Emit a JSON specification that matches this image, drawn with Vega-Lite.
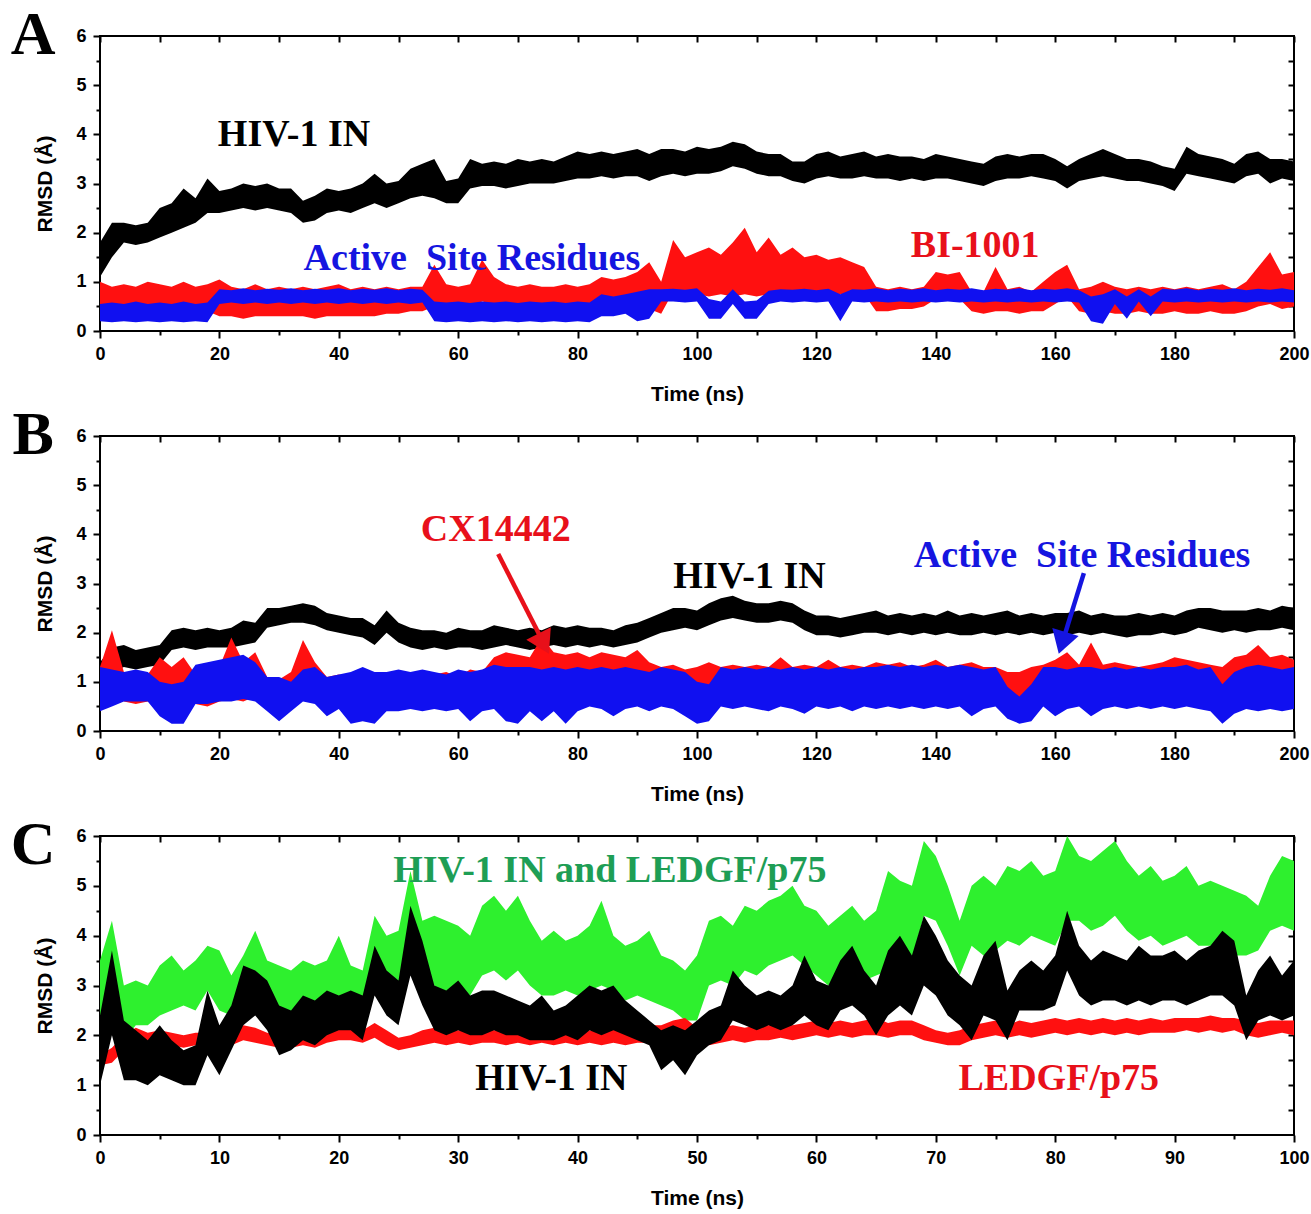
{
"$schema": "https://vega.github.io/schema/vega-lite/v6.json",
"padding": {"left": 9, "top": 3, "right": 0, "bottom": 0},
"background": "white",
"config": {
  "view": {"stroke": "#000", "strokeWidth": 2},
  "axis": {"domain": false, "grid": false, "tickColor": "#000", "tickWidth": 2, "labelFont": "Liberation Sans", "labelFontWeight": "bold", "labelFontSize": 18, "labelColor": "#000", "titleFont": "Liberation Sans", "titleFontWeight": "bold", "titleFontSize": 21, "titleColor": "#000", "labelFlush": false, "labelOverlap": false}
},
"datasets": {
"A": [
{"t":0,"a":1.1,"b":1.8,"c":0.35,"d":1.0,"e":0.2,"f":0.55},
{"t":2,"a":1.5,"b":2.2,"c":0.4,"d":0.9,"e":0.18,"f":0.58},
{"t":4,"a":1.8,"b":2.2,"c":0.35,"d":0.95,"e":0.2,"f":0.55},
{"t":6,"a":1.75,"b":2.15,"c":0.4,"d":0.9,"e":0.18,"f":0.6},
{"t":8,"a":1.8,"b":2.2,"c":0.35,"d":1.0,"e":0.2,"f":0.55},
{"t":10,"a":1.9,"b":2.5,"c":0.4,"d":0.95,"e":0.18,"f":0.58},
{"t":12,"a":2.0,"b":2.6,"c":0.35,"d":0.9,"e":0.2,"f":0.55},
{"t":14,"a":2.1,"b":2.9,"c":0.4,"d":1.0,"e":0.18,"f":0.6},
{"t":16,"a":2.2,"b":2.7,"c":0.35,"d":0.9,"e":0.2,"f":0.55},
{"t":18,"a":2.4,"b":3.1,"c":0.4,"d":0.95,"e":0.18,"f":0.58},
{"t":20,"a":2.4,"b":2.85,"c":0.3,"d":1.05,"e":0.55,"f":0.85},
{"t":22,"a":2.45,"b":2.9,"c":0.3,"d":0.9,"e":0.58,"f":0.83},
{"t":24,"a":2.5,"b":3.0,"c":0.25,"d":0.85,"e":0.55,"f":0.87},
{"t":26,"a":2.45,"b":2.95,"c":0.3,"d":0.95,"e":0.58,"f":0.83},
{"t":28,"a":2.5,"b":3.0,"c":0.3,"d":0.85,"e":0.55,"f":0.86},
{"t":30,"a":2.45,"b":2.9,"c":0.3,"d":0.9,"e":0.58,"f":0.84},
{"t":32,"a":2.4,"b":2.9,"c":0.3,"d":0.85,"e":0.55,"f":0.87},
{"t":34,"a":2.2,"b":2.65,"c":0.3,"d":0.9,"e":0.58,"f":0.83},
{"t":36,"a":2.25,"b":2.75,"c":0.25,"d":0.85,"e":0.55,"f":0.86},
{"t":38,"a":2.4,"b":2.9,"c":0.3,"d":0.9,"e":0.58,"f":0.84},
{"t":40,"a":2.45,"b":2.85,"c":0.3,"d":0.95,"e":0.55,"f":0.87},
{"t":42,"a":2.4,"b":2.9,"c":0.3,"d":0.85,"e":0.58,"f":0.83},
{"t":44,"a":2.5,"b":3.0,"c":0.3,"d":0.9,"e":0.55,"f":0.86},
{"t":46,"a":2.6,"b":3.2,"c":0.3,"d":0.85,"e":0.58,"f":0.84},
{"t":48,"a":2.5,"b":3.0,"c":0.35,"d":0.9,"e":0.55,"f":0.87},
{"t":50,"a":2.6,"b":3.05,"c":0.35,"d":0.85,"e":0.58,"f":0.83},
{"t":52,"a":2.7,"b":3.3,"c":0.4,"d":0.9,"e":0.55,"f":0.86},
{"t":54,"a":2.75,"b":3.4,"c":0.4,"d":0.9,"e":0.58,"f":0.84},
{"t":56,"a":2.7,"b":3.5,"c":0.5,"d":1.35,"e":0.2,"f":0.6},
{"t":58,"a":2.6,"b":3.05,"c":0.45,"d":0.95,"e":0.18,"f":0.58},
{"t":60,"a":2.6,"b":3.1,"c":0.45,"d":0.9,"e":0.2,"f":0.6},
{"t":62,"a":2.9,"b":3.5,"c":0.45,"d":0.95,"e":0.18,"f":0.57},
{"t":64,"a":2.95,"b":3.4,"c":0.6,"d":1.45,"e":0.2,"f":0.6},
{"t":66,"a":2.95,"b":3.45,"c":0.55,"d":1.1,"e":0.18,"f":0.58},
{"t":68,"a":2.9,"b":3.4,"c":0.5,"d":0.95,"e":0.2,"f":0.6},
{"t":70,"a":2.95,"b":3.5,"c":0.5,"d":0.9,"e":0.18,"f":0.57},
{"t":72,"a":3.0,"b":3.45,"c":0.5,"d":0.95,"e":0.2,"f":0.6},
{"t":74,"a":3.0,"b":3.5,"c":0.5,"d":0.9,"e":0.18,"f":0.58},
{"t":76,"a":3.0,"b":3.45,"c":0.5,"d":0.9,"e":0.2,"f":0.6},
{"t":78,"a":3.05,"b":3.55,"c":0.5,"d":0.95,"e":0.18,"f":0.57},
{"t":80,"a":3.1,"b":3.65,"c":0.5,"d":0.9,"e":0.2,"f":0.6},
{"t":82,"a":3.1,"b":3.6,"c":0.45,"d":0.95,"e":0.18,"f":0.58},
{"t":84,"a":3.15,"b":3.65,"c":0.45,"d":1.1,"e":0.3,"f":0.75},
{"t":86,"a":3.1,"b":3.6,"c":0.4,"d":1.05,"e":0.3,"f":0.7},
{"t":88,"a":3.15,"b":3.65,"c":0.45,"d":1.1,"e":0.35,"f":0.75},
{"t":90,"a":3.15,"b":3.7,"c":0.4,"d":1.2,"e":0.2,"f":0.8},
{"t":92,"a":3.05,"b":3.6,"c":0.45,"d":1.4,"e":0.25,"f":0.85},
{"t":94,"a":3.15,"b":3.7,"c":0.35,"d":1.0,"e":0.6,"f":0.85},
{"t":96,"a":3.2,"b":3.7,"c":0.8,"d":1.85,"e":0.6,"f":0.86},
{"t":98,"a":3.15,"b":3.65,"c":0.6,"d":1.5,"e":0.58,"f":0.84},
{"t":100,"a":3.2,"b":3.75,"c":0.75,"d":1.6,"e":0.6,"f":0.87},
{"t":102,"a":3.2,"b":3.7,"c":0.7,"d":1.7,"e":0.25,"f":0.65},
{"t":104,"a":3.25,"b":3.75,"c":0.75,"d":1.55,"e":0.25,"f":0.6},
{"t":106,"a":3.35,"b":3.85,"c":0.7,"d":1.8,"e":0.55,"f":0.85},
{"t":108,"a":3.3,"b":3.8,"c":0.75,"d":2.1,"e":0.25,"f":0.6},
{"t":110,"a":3.2,"b":3.65,"c":0.7,"d":1.6,"e":0.25,"f":0.62},
{"t":112,"a":3.15,"b":3.6,"c":0.75,"d":1.9,"e":0.55,"f":0.82},
{"t":114,"a":3.15,"b":3.6,"c":0.7,"d":1.55,"e":0.6,"f":0.85},
{"t":116,"a":3.05,"b":3.45,"c":0.75,"d":1.7,"e":0.58,"f":0.84},
{"t":118,"a":3.0,"b":3.45,"c":0.7,"d":1.5,"e":0.6,"f":0.86},
{"t":120,"a":3.1,"b":3.6,"c":0.75,"d":1.55,"e":0.58,"f":0.83},
{"t":122,"a":3.15,"b":3.65,"c":0.7,"d":1.45,"e":0.6,"f":0.86},
{"t":124,"a":3.1,"b":3.55,"c":0.75,"d":1.5,"e":0.2,"f":0.75},
{"t":126,"a":3.1,"b":3.6,"c":0.7,"d":1.4,"e":0.6,"f":0.85},
{"t":128,"a":3.15,"b":3.65,"c":0.75,"d":1.3,"e":0.58,"f":0.84},
{"t":130,"a":3.1,"b":3.55,"c":0.4,"d":0.9,"e":0.6,"f":0.87},
{"t":132,"a":3.1,"b":3.6,"c":0.4,"d":0.85,"e":0.58,"f":0.83},
{"t":134,"a":3.05,"b":3.55,"c":0.45,"d":0.9,"e":0.6,"f":0.86},
{"t":136,"a":3.1,"b":3.55,"c":0.45,"d":0.85,"e":0.58,"f":0.84},
{"t":138,"a":3.05,"b":3.5,"c":0.5,"d":0.9,"e":0.6,"f":0.87},
{"t":140,"a":3.1,"b":3.6,"c":0.65,"d":1.2,"e":0.58,"f":0.83},
{"t":142,"a":3.1,"b":3.55,"c":0.7,"d":1.15,"e":0.6,"f":0.86},
{"t":144,"a":3.05,"b":3.5,"c":0.65,"d":1.2,"e":0.58,"f":0.84},
{"t":146,"a":3.0,"b":3.45,"c":0.4,"d":0.8,"e":0.6,"f":0.87},
{"t":148,"a":2.95,"b":3.4,"c":0.35,"d":0.8,"e":0.58,"f":0.83},
{"t":150,"a":3.05,"b":3.55,"c":0.4,"d":1.3,"e":0.6,"f":0.86},
{"t":152,"a":3.1,"b":3.6,"c":0.4,"d":0.85,"e":0.58,"f":0.84},
{"t":154,"a":3.1,"b":3.55,"c":0.35,"d":0.9,"e":0.6,"f":0.87},
{"t":156,"a":3.15,"b":3.6,"c":0.4,"d":0.8,"e":0.58,"f":0.83},
{"t":158,"a":3.1,"b":3.6,"c":0.4,"d":1.0,"e":0.6,"f":0.86},
{"t":160,"a":3.05,"b":3.5,"c":0.55,"d":1.2,"e":0.58,"f":0.84},
{"t":162,"a":2.9,"b":3.35,"c":0.7,"d":1.35,"e":0.6,"f":0.87},
{"t":164,"a":3.05,"b":3.5,"c":0.4,"d":0.85,"e":0.58,"f":0.83},
{"t":166,"a":3.1,"b":3.6,"c":0.35,"d":0.9,"e":0.2,"f":0.7},
{"t":168,"a":3.15,"b":3.7,"c":0.4,"d":1.0,"e":0.15,"f":0.75},
{"t":170,"a":3.1,"b":3.6,"c":0.35,"d":0.9,"e":0.55,"f":0.85},
{"t":172,"a":3.05,"b":3.5,"c":0.35,"d":0.85,"e":0.25,"f":0.7},
{"t":174,"a":3.05,"b":3.5,"c":0.4,"d":0.9,"e":0.6,"f":0.85},
{"t":176,"a":3.0,"b":3.45,"c":0.35,"d":0.85,"e":0.3,"f":0.7},
{"t":178,"a":2.95,"b":3.35,"c":0.35,"d":0.9,"e":0.6,"f":0.86},
{"t":180,"a":2.85,"b":3.3,"c":0.4,"d":0.85,"e":0.58,"f":0.84},
{"t":182,"a":3.2,"b":3.75,"c":0.35,"d":0.9,"e":0.6,"f":0.87},
{"t":184,"a":3.15,"b":3.6,"c":0.35,"d":0.85,"e":0.58,"f":0.83},
{"t":186,"a":3.1,"b":3.55,"c":0.4,"d":0.9,"e":0.6,"f":0.86},
{"t":188,"a":3.05,"b":3.5,"c":0.35,"d":0.95,"e":0.58,"f":0.84},
{"t":190,"a":3.0,"b":3.4,"c":0.35,"d":0.85,"e":0.6,"f":0.87},
{"t":192,"a":3.15,"b":3.6,"c":0.4,"d":1.0,"e":0.58,"f":0.83},
{"t":194,"a":3.2,"b":3.65,"c":0.5,"d":1.3,"e":0.6,"f":0.86},
{"t":196,"a":3.0,"b":3.5,"c":0.55,"d":1.6,"e":0.58,"f":0.84},
{"t":198,"a":3.1,"b":3.5,"c":0.45,"d":1.15,"e":0.6,"f":0.87},
{"t":200,"a":3.05,"b":3.45,"c":0.5,"d":1.2,"e":0.58,"f":0.83}
],
"B": [
{"t":0,"a":1.0,"b":1.4,"c":0.5,"d":1.3,"e":0.4,"f":1.3},
{"t":2,"a":1.2,"b":1.7,"c":0.9,"d":2.05,"e":0.5,"f":1.25},
{"t":4,"a":1.3,"b":1.75,"c":0.6,"d":1.2,"e":0.6,"f":1.2},
{"t":6,"a":1.25,"b":1.65,"c":0.55,"d":1.1,"e":0.6,"f":1.25},
{"t":8,"a":1.3,"b":1.7,"c":0.6,"d":1.15,"e":0.6,"f":1.2},
{"t":10,"a":1.35,"b":1.75,"c":0.7,"d":1.5,"e":0.3,"f":1.0},
{"t":12,"a":1.65,"b":2.05,"c":0.6,"d":1.3,"e":0.15,"f":0.95},
{"t":14,"a":1.7,"b":2.1,"c":0.6,"d":1.5,"e":0.15,"f":1.0},
{"t":16,"a":1.65,"b":2.05,"c":0.55,"d":1.15,"e":0.55,"f":1.35},
{"t":18,"a":1.7,"b":2.1,"c":0.5,"d":1.1,"e":0.55,"f":1.4},
{"t":20,"a":1.7,"b":2.05,"c":0.6,"d":1.3,"e":0.6,"f":1.45},
{"t":22,"a":1.7,"b":2.1,"c":0.65,"d":1.9,"e":0.6,"f":1.5},
{"t":24,"a":1.75,"b":2.25,"c":0.6,"d":1.4,"e":0.65,"f":1.55},
{"t":26,"a":1.8,"b":2.2,"c":0.7,"d":1.6,"e":0.6,"f":1.4},
{"t":28,"a":2.1,"b":2.5,"c":0.6,"d":1.1,"e":0.4,"f":1.1},
{"t":30,"a":2.15,"b":2.5,"c":0.6,"d":1.05,"e":0.2,"f":1.1},
{"t":32,"a":2.2,"b":2.55,"c":0.65,"d":1.2,"e":0.4,"f":1.0},
{"t":34,"a":2.2,"b":2.6,"c":0.7,"d":1.85,"e":0.6,"f":1.25},
{"t":36,"a":2.15,"b":2.55,"c":0.65,"d":1.4,"e":0.55,"f":1.3},
{"t":38,"a":2.05,"b":2.4,"c":0.6,"d":1.1,"e":0.3,"f":1.1},
{"t":40,"a":2.0,"b":2.35,"c":0.6,"d":1.15,"e":0.45,"f":1.15},
{"t":42,"a":1.95,"b":2.3,"c":0.6,"d":1.1,"e":0.15,"f":1.2},
{"t":44,"a":1.9,"b":2.3,"c":0.65,"d":1.2,"e":0.2,"f":1.3},
{"t":46,"a":1.75,"b":2.15,"c":0.6,"d":1.1,"e":0.15,"f":1.2},
{"t":48,"a":2.0,"b":2.45,"c":0.6,"d":1.15,"e":0.4,"f":1.2},
{"t":50,"a":1.8,"b":2.2,"c":0.6,"d":1.1,"e":0.4,"f":1.25},
{"t":52,"a":1.7,"b":2.1,"c":0.65,"d":1.2,"e":0.45,"f":1.2},
{"t":54,"a":1.65,"b":2.05,"c":0.6,"d":1.1,"e":0.4,"f":1.25},
{"t":56,"a":1.7,"b":2.05,"c":0.6,"d":1.15,"e":0.45,"f":1.2},
{"t":58,"a":1.65,"b":2.0,"c":0.65,"d":1.2,"e":0.4,"f":1.15},
{"t":60,"a":1.7,"b":2.1,"c":0.6,"d":1.1,"e":0.45,"f":1.25},
{"t":62,"a":1.7,"b":2.05,"c":0.65,"d":1.25,"e":0.2,"f":1.2},
{"t":64,"a":1.65,"b":2.05,"c":0.6,"d":1.2,"e":0.4,"f":1.25},
{"t":66,"a":1.7,"b":2.15,"c":0.7,"d":1.5,"e":0.45,"f":1.35},
{"t":68,"a":1.75,"b":2.1,"c":0.7,"d":1.6,"e":0.2,"f":1.3},
{"t":70,"a":1.7,"b":2.05,"c":0.75,"d":1.55,"e":0.15,"f":1.3},
{"t":72,"a":1.65,"b":2.1,"c":0.7,"d":1.5,"e":0.4,"f":1.3},
{"t":74,"a":1.7,"b":2.05,"c":0.8,"d":1.9,"e":0.2,"f":1.25},
{"t":76,"a":1.75,"b":2.15,"c":0.75,"d":1.6,"e":0.4,"f":1.3},
{"t":78,"a":1.7,"b":2.1,"c":0.7,"d":1.55,"e":0.15,"f":1.25},
{"t":80,"a":1.75,"b":2.15,"c":0.75,"d":1.6,"e":0.4,"f":1.3},
{"t":82,"a":1.7,"b":2.1,"c":0.7,"d":1.5,"e":0.5,"f":1.25},
{"t":84,"a":1.75,"b":2.1,"c":0.75,"d":1.6,"e":0.45,"f":1.3},
{"t":86,"a":1.7,"b":2.05,"c":0.7,"d":1.55,"e":0.3,"f":1.25},
{"t":88,"a":1.75,"b":2.15,"c":0.7,"d":1.5,"e":0.45,"f":1.3},
{"t":90,"a":1.8,"b":2.2,"c":0.75,"d":1.65,"e":0.5,"f":1.25},
{"t":92,"a":1.9,"b":2.3,"c":0.7,"d":1.4,"e":0.4,"f":1.2},
{"t":94,"a":2.0,"b":2.4,"c":0.65,"d":1.3,"e":0.5,"f":1.3},
{"t":96,"a":2.05,"b":2.5,"c":0.6,"d":1.35,"e":0.45,"f":1.25},
{"t":98,"a":2.1,"b":2.5,"c":0.6,"d":1.25,"e":0.3,"f":1.2},
{"t":100,"a":2.05,"b":2.45,"c":0.6,"d":1.3,"e":0.15,"f":1.0},
{"t":102,"a":2.15,"b":2.6,"c":0.6,"d":1.4,"e":0.2,"f":0.95},
{"t":104,"a":2.25,"b":2.7,"c":0.6,"d":1.3,"e":0.5,"f":1.3},
{"t":106,"a":2.3,"b":2.75,"c":0.65,"d":1.35,"e":0.45,"f":1.25},
{"t":108,"a":2.25,"b":2.65,"c":0.6,"d":1.3,"e":0.5,"f":1.3},
{"t":110,"a":2.2,"b":2.6,"c":0.6,"d":1.35,"e":0.45,"f":1.25},
{"t":112,"a":2.2,"b":2.6,"c":0.6,"d":1.3,"e":0.4,"f":1.3},
{"t":114,"a":2.25,"b":2.65,"c":0.65,"d":1.5,"e":0.5,"f":1.25},
{"t":116,"a":2.2,"b":2.6,"c":0.6,"d":1.3,"e":0.45,"f":1.3},
{"t":118,"a":2.05,"b":2.45,"c":0.6,"d":1.35,"e":0.35,"f":1.25},
{"t":120,"a":1.95,"b":2.35,"c":0.6,"d":1.3,"e":0.5,"f":1.3},
{"t":122,"a":1.95,"b":2.35,"c":0.65,"d":1.45,"e":0.45,"f":1.25},
{"t":124,"a":1.9,"b":2.3,"c":0.6,"d":1.3,"e":0.5,"f":1.3},
{"t":126,"a":1.95,"b":2.35,"c":0.6,"d":1.35,"e":0.4,"f":1.25},
{"t":128,"a":2.0,"b":2.4,"c":0.65,"d":1.3,"e":0.5,"f":1.3},
{"t":130,"a":2.0,"b":2.45,"c":0.6,"d":1.4,"e":0.45,"f":1.3},
{"t":132,"a":1.95,"b":2.35,"c":0.65,"d":1.35,"e":0.5,"f":1.35},
{"t":134,"a":2.0,"b":2.4,"c":0.6,"d":1.4,"e":0.45,"f":1.3},
{"t":136,"a":1.95,"b":2.35,"c":0.65,"d":1.3,"e":0.5,"f":1.35},
{"t":138,"a":2.0,"b":2.4,"c":0.6,"d":1.35,"e":0.45,"f":1.3},
{"t":140,"a":1.95,"b":2.35,"c":0.65,"d":1.45,"e":0.5,"f":1.35},
{"t":142,"a":2.0,"b":2.45,"c":0.6,"d":1.3,"e":0.45,"f":1.3},
{"t":144,"a":1.95,"b":2.35,"c":0.6,"d":1.35,"e":0.5,"f":1.35},
{"t":146,"a":1.95,"b":2.4,"c":0.65,"d":1.4,"e":0.3,"f":1.3},
{"t":148,"a":2.0,"b":2.35,"c":0.6,"d":1.3,"e":0.45,"f":1.25},
{"t":150,"a":1.95,"b":2.4,"c":0.65,"d":1.3,"e":0.5,"f":1.3},
{"t":152,"a":2.0,"b":2.45,"c":0.65,"d":1.2,"e":0.25,"f":0.9},
{"t":154,"a":1.95,"b":2.35,"c":0.65,"d":1.2,"e":0.15,"f":0.7},
{"t":156,"a":2.0,"b":2.4,"c":0.6,"d":1.3,"e":0.2,"f":0.95},
{"t":158,"a":1.95,"b":2.35,"c":0.65,"d":1.35,"e":0.5,"f":1.3},
{"t":160,"a":2.0,"b":2.4,"c":0.65,"d":1.45,"e":0.3,"f":1.3},
{"t":162,"a":1.95,"b":2.4,"c":0.65,"d":1.6,"e":0.45,"f":1.25},
{"t":164,"a":2.0,"b":2.45,"c":0.6,"d":1.35,"e":0.5,"f":1.3},
{"t":166,"a":1.95,"b":2.35,"c":0.65,"d":1.8,"e":0.3,"f":1.3},
{"t":168,"a":2.0,"b":2.4,"c":0.6,"d":1.35,"e":0.45,"f":1.25},
{"t":170,"a":1.95,"b":2.35,"c":0.65,"d":1.4,"e":0.5,"f":1.3},
{"t":172,"a":1.9,"b":2.35,"c":0.6,"d":1.35,"e":0.45,"f":1.25},
{"t":174,"a":1.95,"b":2.4,"c":0.65,"d":1.3,"e":0.5,"f":1.3},
{"t":176,"a":1.95,"b":2.35,"c":0.6,"d":1.35,"e":0.45,"f":1.25},
{"t":178,"a":2.0,"b":2.4,"c":0.6,"d":1.4,"e":0.5,"f":1.3},
{"t":180,"a":1.95,"b":2.35,"c":0.65,"d":1.5,"e":0.45,"f":1.3},
{"t":182,"a":2.0,"b":2.45,"c":0.6,"d":1.45,"e":0.5,"f":1.35},
{"t":184,"a":2.1,"b":2.5,"c":0.65,"d":1.4,"e":0.45,"f":1.25},
{"t":186,"a":2.05,"b":2.5,"c":0.6,"d":1.35,"e":0.4,"f":1.3},
{"t":188,"a":2.0,"b":2.45,"c":0.55,"d":1.3,"e":0.15,"f":0.95},
{"t":190,"a":2.05,"b":2.45,"c":0.6,"d":1.5,"e":0.35,"f":1.2},
{"t":192,"a":2.0,"b":2.45,"c":0.6,"d":1.55,"e":0.45,"f":1.3},
{"t":194,"a":2.05,"b":2.5,"c":0.65,"d":1.75,"e":0.4,"f":1.35},
{"t":196,"a":2.05,"b":2.45,"c":0.6,"d":1.5,"e":0.45,"f":1.3},
{"t":198,"a":2.1,"b":2.55,"c":0.65,"d":1.55,"e":0.4,"f":1.25},
{"t":200,"a":2.05,"b":2.5,"c":0.6,"d":1.45,"e":0.45,"f":1.3}
],
"C": [
{"t":0,"a":1.0,"b":2.4,"c":1.4,"d":1.6,"e":2.0,"f":3.5},
{"t":1,"a":2.0,"b":3.7,"c":1.45,"d":1.75,"e":2.2,"f":4.3},
{"t":2,"a":1.1,"b":2.3,"c":1.7,"d":2.0,"e":1.9,"f":3.0},
{"t":3,"a":1.1,"b":2.1,"c":1.8,"d":2.15,"e":2.2,"f":3.1},
{"t":4,"a":1.0,"b":1.9,"c":1.75,"d":2.05,"e":2.2,"f":3.0},
{"t":5,"a":1.2,"b":2.2,"c":1.8,"d":2.1,"e":2.4,"f":3.4},
{"t":6,"a":1.1,"b":1.9,"c":1.8,"d":2.05,"e":2.5,"f":3.6},
{"t":7,"a":1.0,"b":1.7,"c":1.75,"d":2.0,"e":2.6,"f":3.3},
{"t":8,"a":1.0,"b":1.8,"c":1.8,"d":2.05,"e":2.5,"f":3.5},
{"t":9,"a":1.6,"b":2.9,"c":1.75,"d":2.05,"e":2.9,"f":3.8},
{"t":10,"a":1.2,"b":2.2,"c":1.85,"d":2.1,"e":2.5,"f":3.7},
{"t":11,"a":1.7,"b":2.6,"c":1.8,"d":2.05,"e":2.4,"f":3.2},
{"t":12,"a":2.2,"b":3.4,"c":1.9,"d":2.2,"e":2.6,"f":3.6},
{"t":13,"a":2.4,"b":3.3,"c":1.85,"d":2.15,"e":2.7,"f":4.1},
{"t":14,"a":2.1,"b":3.1,"c":1.8,"d":2.05,"e":2.4,"f":3.5},
{"t":15,"a":1.6,"b":2.6,"c":1.75,"d":2.0,"e":2.5,"f":3.4},
{"t":16,"a":1.7,"b":2.5,"c":1.75,"d":2.05,"e":2.3,"f":3.3},
{"t":17,"a":1.9,"b":2.8,"c":1.8,"d":2.05,"e":2.4,"f":3.5},
{"t":18,"a":1.8,"b":2.7,"c":1.75,"d":2.0,"e":2.5,"f":3.4},
{"t":19,"a":2.0,"b":2.9,"c":1.85,"d":2.1,"e":2.6,"f":3.5},
{"t":20,"a":2.1,"b":2.8,"c":1.9,"d":2.15,"e":2.6,"f":4.0},
{"t":21,"a":2.1,"b":2.9,"c":1.9,"d":2.2,"e":2.5,"f":3.4},
{"t":22,"a":1.9,"b":2.8,"c":1.85,"d":2.1,"e":2.6,"f":3.3},
{"t":23,"a":2.8,"b":3.8,"c":1.95,"d":2.25,"e":3.2,"f":4.4},
{"t":24,"a":2.4,"b":3.3,"c":1.8,"d":2.1,"e":2.9,"f":4.0},
{"t":25,"a":2.2,"b":3.1,"c":1.7,"d":1.95,"e":2.8,"f":4.1},
{"t":26,"a":3.2,"b":4.6,"c":1.75,"d":2.0,"e":3.3,"f":5.3},
{"t":27,"a":2.6,"b":3.9,"c":1.8,"d":2.1,"e":2.9,"f":4.3},
{"t":28,"a":2.1,"b":3.0,"c":1.85,"d":2.15,"e":3.0,"f":4.4},
{"t":29,"a":2.0,"b":2.9,"c":1.8,"d":2.1,"e":2.8,"f":4.3},
{"t":30,"a":2.1,"b":3.1,"c":1.85,"d":2.1,"e":2.9,"f":4.2},
{"t":31,"a":2.0,"b":2.8,"c":1.8,"d":2.1,"e":2.8,"f":4.0},
{"t":32,"a":2.0,"b":2.9,"c":1.85,"d":2.15,"e":3.2,"f":4.6},
{"t":33,"a":2.1,"b":2.9,"c":1.85,"d":2.1,"e":3.3,"f":4.8},
{"t":34,"a":2.0,"b":2.8,"c":1.8,"d":2.1,"e":3.1,"f":4.5},
{"t":35,"a":2.0,"b":2.7,"c":1.85,"d":2.15,"e":3.3,"f":4.8},
{"t":36,"a":1.9,"b":2.6,"c":1.8,"d":2.05,"e":3.0,"f":4.3},
{"t":37,"a":1.9,"b":2.8,"c":1.85,"d":2.1,"e":2.8,"f":3.9},
{"t":38,"a":1.9,"b":2.5,"c":1.8,"d":2.1,"e":2.8,"f":4.1},
{"t":39,"a":2.0,"b":2.6,"c":1.85,"d":2.15,"e":2.9,"f":3.9},
{"t":40,"a":1.9,"b":2.8,"c":1.8,"d":2.1,"e":2.8,"f":4.0},
{"t":41,"a":2.1,"b":3.0,"c":1.85,"d":2.1,"e":2.9,"f":4.2},
{"t":42,"a":2.0,"b":2.9,"c":1.8,"d":2.05,"e":3.0,"f":4.7},
{"t":43,"a":2.1,"b":3.0,"c":1.85,"d":2.15,"e":2.9,"f":4.0},
{"t":44,"a":2.0,"b":2.7,"c":1.8,"d":2.1,"e":2.7,"f":3.8},
{"t":45,"a":1.9,"b":2.5,"c":1.85,"d":2.15,"e":2.8,"f":3.9},
{"t":46,"a":1.8,"b":2.3,"c":1.85,"d":2.2,"e":2.7,"f":4.1},
{"t":47,"a":1.3,"b":2.1,"c":1.9,"d":2.2,"e":2.6,"f":3.6},
{"t":48,"a":1.5,"b":2.2,"c":1.95,"d":2.3,"e":2.5,"f":3.5},
{"t":49,"a":1.2,"b":2.1,"c":2.0,"d":2.35,"e":2.3,"f":3.3},
{"t":50,"a":1.6,"b":2.3,"c":1.85,"d":2.15,"e":2.3,"f":3.6},
{"t":51,"a":1.8,"b":2.5,"c":1.8,"d":2.1,"e":3.0,"f":4.3},
{"t":52,"a":1.9,"b":2.6,"c":1.85,"d":2.15,"e":3.1,"f":4.4},
{"t":53,"a":2.3,"b":3.3,"c":1.9,"d":2.2,"e":3.0,"f":4.2},
{"t":54,"a":2.2,"b":3.0,"c":1.85,"d":2.15,"e":3.3,"f":4.6},
{"t":55,"a":2.1,"b":2.8,"c":1.9,"d":2.2,"e":3.2,"f":4.5},
{"t":56,"a":2.2,"b":2.9,"c":1.9,"d":2.2,"e":3.4,"f":4.7},
{"t":57,"a":2.1,"b":2.8,"c":1.95,"d":2.25,"e":3.5,"f":4.8},
{"t":58,"a":2.2,"b":3.0,"c":1.9,"d":2.2,"e":3.6,"f":5.0},
{"t":59,"a":2.4,"b":3.6,"c":1.95,"d":2.25,"e":3.4,"f":4.6},
{"t":60,"a":2.2,"b":3.1,"c":2.0,"d":2.3,"e":3.2,"f":4.5},
{"t":61,"a":2.1,"b":3.0,"c":1.95,"d":2.25,"e":3.0,"f":4.2},
{"t":62,"a":2.5,"b":3.5,"c":2.0,"d":2.3,"e":3.2,"f":4.4},
{"t":63,"a":2.6,"b":3.8,"c":1.95,"d":2.25,"e":3.3,"f":4.6},
{"t":64,"a":2.4,"b":3.3,"c":2.0,"d":2.3,"e":3.1,"f":4.3},
{"t":65,"a":2.0,"b":3.0,"c":2.0,"d":2.35,"e":3.2,"f":4.5},
{"t":66,"a":2.4,"b":3.7,"c":1.95,"d":2.25,"e":3.3,"f":5.3},
{"t":67,"a":2.6,"b":4.0,"c":2.0,"d":2.3,"e":3.6,"f":5.1},
{"t":68,"a":2.4,"b":3.6,"c":2.0,"d":2.3,"e":3.5,"f":5.0},
{"t":69,"a":3.0,"b":4.4,"c":1.9,"d":2.2,"e":4.4,"f":5.9},
{"t":70,"a":2.8,"b":4.0,"c":1.85,"d":2.1,"e":4.3,"f":5.6},
{"t":71,"a":2.4,"b":3.5,"c":1.8,"d":2.05,"e":3.8,"f":5.0},
{"t":72,"a":2.2,"b":3.2,"c":1.8,"d":2.1,"e":3.2,"f":4.3},
{"t":73,"a":1.9,"b":3.0,"c":1.9,"d":2.2,"e":3.8,"f":5.0},
{"t":74,"a":2.4,"b":3.6,"c":1.95,"d":2.25,"e":3.6,"f":5.2},
{"t":75,"a":2.3,"b":3.9,"c":2.0,"d":2.3,"e":3.7,"f":5.0},
{"t":76,"a":1.9,"b":2.9,"c":1.95,"d":2.2,"e":3.9,"f":5.4},
{"t":77,"a":2.5,"b":3.3,"c":2.0,"d":2.3,"e":3.8,"f":5.3},
{"t":78,"a":2.5,"b":3.5,"c":1.95,"d":2.25,"e":4.0,"f":5.5},
{"t":79,"a":2.5,"b":3.3,"c":2.0,"d":2.3,"e":3.9,"f":5.2},
{"t":80,"a":2.6,"b":3.6,"c":2.05,"d":2.35,"e":3.8,"f":5.3},
{"t":81,"a":3.3,"b":4.5,"c":2.0,"d":2.3,"e":4.3,"f":6.0},
{"t":82,"a":2.8,"b":3.8,"c":2.05,"d":2.35,"e":4.3,"f":5.6},
{"t":83,"a":2.6,"b":3.5,"c":2.0,"d":2.3,"e":4.1,"f":5.5},
{"t":84,"a":2.7,"b":3.7,"c":2.05,"d":2.35,"e":4.2,"f":5.7},
{"t":85,"a":2.7,"b":3.6,"c":2.0,"d":2.3,"e":4.4,"f":5.9},
{"t":86,"a":2.6,"b":3.5,"c":2.05,"d":2.35,"e":4.1,"f":5.5},
{"t":87,"a":2.7,"b":3.8,"c":2.0,"d":2.3,"e":3.9,"f":5.2},
{"t":88,"a":2.6,"b":3.6,"c":2.05,"d":2.35,"e":4.0,"f":5.4},
{"t":89,"a":2.7,"b":3.6,"c":2.05,"d":2.3,"e":3.8,"f":5.1},
{"t":90,"a":2.7,"b":3.7,"c":2.05,"d":2.35,"e":3.9,"f":5.2},
{"t":91,"a":2.6,"b":3.5,"c":2.1,"d":2.35,"e":4.0,"f":5.4},
{"t":92,"a":2.7,"b":3.7,"c":2.05,"d":2.35,"e":3.8,"f":5.0},
{"t":93,"a":2.8,"b":3.8,"c":2.1,"d":2.4,"e":3.8,"f":5.1},
{"t":94,"a":2.8,"b":4.1,"c":2.05,"d":2.35,"e":3.7,"f":5.0},
{"t":95,"a":2.6,"b":3.9,"c":2.1,"d":2.35,"e":3.6,"f":4.9},
{"t":96,"a":1.9,"b":2.8,"c":2.0,"d":2.3,"e":3.6,"f":4.8},
{"t":97,"a":2.3,"b":3.3,"c":1.95,"d":2.25,"e":3.7,"f":4.6},
{"t":98,"a":2.4,"b":3.6,"c":2.0,"d":2.3,"e":4.1,"f":5.2},
{"t":99,"a":2.3,"b":3.2,"c":2.05,"d":2.3,"e":4.2,"f":5.6},
{"t":100,"a":2.4,"b":3.5,"c":2.0,"d":2.3,"e":4.1,"f":5.5}
]
},
"bounds": "flush",
"spacing": 105,
"vconcat": [
{
 "width": 1194, "height": 295,
 "data": {"name": "A"},
 "layer": [
  {"mark": {"type": "area", "color": "#000000"},
   "encoding": {
    "x": {"field": "t", "type": "quantitative", "scale": {"domain": [0, 200], "nice": false},
          "axis": {"orient": "bottom", "values": [0,20,40,60,80,100,120,140,160,180,200], "tickSize": 7, "labelPadding": 7, "title": "Time (ns)", "titlePadding": 20}},
    "y": {"field": "a", "type": "quantitative", "scale": {"domain": [0, 6], "nice": false},
          "axis": {"orient": "left", "values": [0,1,2,3,4,5,6], "tickSize": 7, "labelPadding": 7, "title": "RMSD (Å)", "titlePadding": 20}},
    "y2": {"field": "b"}}},
  {"mark": {"type": "area", "color": "#ff1010"},
   "encoding": {
    "x": {"field": "t", "type": "quantitative", "axis": {"orient": "bottom", "values": [10,30,50,70,90,110,130,150,170,190], "tickSize": 4, "labels": false, "title": null}},
    "y": {"field": "c", "type": "quantitative", "axis": {"orient": "left", "values": [0.5,1.5,2.5,3.5,4.5,5.5], "tickSize": 4, "labels": false, "title": null}},
    "y2": {"field": "d"}}},
  {"mark": {"type": "area", "color": "#1010f0"},
   "encoding": {
    "x": {"field": "t", "type": "quantitative", "axis": {"orient": "top", "values": [0,10,20,30,40,50,60,70,80,90,100,110,120,130,140,150,160,170,180,190,200], "tickSize": 6, "offset": -6, "labels": false, "title": null}},
    "y": {"field": "e", "type": "quantitative", "axis": {"orient": "right", "values": [0.5,1,1.5,2,2.5,3,3.5,4,4.5,5,5.5], "tickSize": 6, "offset": -6, "labels": false, "title": null}},
    "y2": {"field": "f"}}},
  {"data": {"values": [
     {"t": 32.5, "y": 3.76, "label": "HIV-1 IN"},
     {"t": 62.3, "y": 1.24, "label": "Active\u00a0 Site Residues"},
     {"t": 146.6, "y": 1.5, "label": "BI-1001"}]},
   "mark": {"type": "text", "font": "Liberation Serif", "fontWeight": "bold", "fontSize": 38, "align": "center", "baseline": "alphabetic"},
   "encoding": {
    "x": {"field": "t", "type": "quantitative", "axis": null},
    "y": {"field": "y", "type": "quantitative", "axis": null},
    "text": {"field": "label"},
    "color": {"field": "label", "type": "nominal", "legend": null, "scale": {"domain": ["HIV-1 IN","BI-1001","Active\u00a0 Site Residues","CX14442","HIV-1 IN and LEDGF/p75","LEDGF/p75"], "range": ["#000000","#e8101a","#1515e0","#e8101a","#1e9e55","#e8101a"]}}}},
  {"data": {"values": [{"t": -11.2, "y": 5.63, "label": "A"}]},
   "mark": {"type": "text", "font": "Liberation Serif", "fontWeight": "bold", "fontSize": 62, "align": "center", "baseline": "alphabetic", "color": "#000000"},
   "encoding": {
    "x": {"field": "t", "type": "quantitative", "axis": null},
    "y": {"field": "y", "type": "quantitative", "axis": null},
    "text": {"field": "label"}}}
 ],
 "resolve": {"axis": {"x": "independent", "y": "independent"}}
},
{
 "width": 1194, "height": 295,
 "data": {"name": "B"},
 "layer": [
  {"mark": {"type": "area", "color": "#000000"},
   "encoding": {
    "x": {"field": "t", "type": "quantitative", "scale": {"domain": [0, 200], "nice": false},
          "axis": {"orient": "bottom", "values": [0,20,40,60,80,100,120,140,160,180,200], "tickSize": 7, "labelPadding": 7, "title": "Time (ns)", "titlePadding": 20}},
    "y": {"field": "a", "type": "quantitative", "scale": {"domain": [0, 6], "nice": false},
          "axis": {"orient": "left", "values": [0,1,2,3,4,5,6], "tickSize": 7, "labelPadding": 7, "title": "RMSD (Å)", "titlePadding": 20}},
    "y2": {"field": "b"}}},
  {"mark": {"type": "area", "color": "#ff1010"},
   "encoding": {
    "x": {"field": "t", "type": "quantitative", "axis": {"orient": "bottom", "values": [10,30,50,70,90,110,130,150,170,190], "tickSize": 4, "labels": false, "title": null}},
    "y": {"field": "c", "type": "quantitative", "axis": {"orient": "left", "values": [0.5,1.5,2.5,3.5,4.5,5.5], "tickSize": 4, "labels": false, "title": null}},
    "y2": {"field": "d"}}},
  {"mark": {"type": "area", "color": "#1010f0"},
   "encoding": {
    "x": {"field": "t", "type": "quantitative", "axis": {"orient": "top", "values": [0,10,20,30,40,50,60,70,80,90,100,110,120,130,140,150,160,170,180,190,200], "tickSize": 6, "offset": -6, "labels": false, "title": null}},
    "y": {"field": "e", "type": "quantitative", "axis": {"orient": "right", "values": [0.5,1,1.5,2,2.5,3,3.5,4,4.5,5,5.5], "tickSize": 6, "offset": -6, "labels": false, "title": null}},
    "y2": {"field": "f"}}},
  {"data": {"values": [
     {"t": 66.3, "y": 3.86, "label": "CX14442"},
     {"t": 108.8, "y": 2.91, "label": "HIV-1 IN"},
     {"t": 164.5, "y": 3.34, "label": "Active\u00a0 Site Residues"}]},
   "mark": {"type": "text", "font": "Liberation Serif", "fontWeight": "bold", "fontSize": 38, "align": "center", "baseline": "alphabetic"},
   "encoding": {
    "x": {"field": "t", "type": "quantitative", "axis": null},
    "y": {"field": "y", "type": "quantitative", "axis": null},
    "text": {"field": "label"},
    "color": {"field": "label", "type": "nominal", "legend": null, "scale": {"domain": ["HIV-1 IN","BI-1001","Active\u00a0 Site Residues","CX14442","HIV-1 IN and LEDGF/p75","LEDGF/p75"], "range": ["#000000","#e8101a","#1515e0","#e8101a","#1e9e55","#e8101a"]}}}},
  {"data": {"values": [
     {"t": 66.7, "y": 3.6, "t2": 74.3, "y2": 1.79, "label": "CX14442"},
     {"t": 164.8, "y": 3.21, "t2": 161.2, "y2": 1.8, "label": "Active\u00a0 Site Residues"}]},
   "mark": {"type": "rule", "strokeWidth": 4.5},
   "encoding": {
    "x": {"field": "t", "type": "quantitative", "axis": null},
    "y": {"field": "y", "type": "quantitative", "axis": null},
    "x2": {"field": "t2"},
    "y2": {"field": "y2"},
    "color": {"field": "label", "type": "nominal", "legend": null, "scale": {"domain": ["HIV-1 IN","BI-1001","Active\u00a0 Site Residues","CX14442","HIV-1 IN and LEDGF/p75","LEDGF/p75"], "range": ["#000000","#e8101a","#1515e0","#e8101a","#1e9e55","#e8101a"]}}}},
  {"data": {"values": [{"t": 75.2, "y": 1.57, "label": "CX14442"}]},
   "mark": {"type": "point", "shape": "M0,0L-0.6,-1L0.6,-1Z", "filled": true, "opacity": 1, "size": 2100, "angle": 333, "color": "#e8101a", "strokeWidth": 0},
   "encoding": {
    "x": {"field": "t", "type": "quantitative", "axis": null},
    "y": {"field": "y", "type": "quantitative", "axis": null}}},
  {"data": {"values": [{"t": 160.6, "y": 1.57, "label": "Active\u00a0 Site Residues"}]},
   "mark": {"type": "point", "shape": "M0,0L-0.6,-1L0.6,-1Z", "filled": true, "opacity": 1, "size": 2100, "angle": 17, "color": "#1515e0", "strokeWidth": 0},
   "encoding": {
    "x": {"field": "t", "type": "quantitative", "axis": null},
    "y": {"field": "y", "type": "quantitative", "axis": null}}},
  {"data": {"values": [{"t": -11.2, "y": 5.63, "label": "B"}]},
   "mark": {"type": "text", "font": "Liberation Serif", "fontWeight": "bold", "fontSize": 62, "align": "center", "baseline": "alphabetic", "color": "#000000"},
   "encoding": {
    "x": {"field": "t", "type": "quantitative", "axis": null},
    "y": {"field": "y", "type": "quantitative", "axis": null},
    "text": {"field": "label"}}}
 ],
 "resolve": {"axis": {"x": "independent", "y": "independent"}}
},
{
 "width": 1194, "height": 299,
 "data": {"name": "C"},
 "layer": [
  {"mark": {"type": "area", "color": "#2ef02e"},
   "encoding": {
    "x": {"field": "t", "type": "quantitative", "scale": {"domain": [0, 100], "nice": false},
          "axis": {"orient": "bottom", "values": [0,10,20,30,40,50,60,70,80,90,100], "tickSize": 7, "labelPadding": 7, "title": "Time (ns)", "titlePadding": 20}},
    "y": {"field": "e", "type": "quantitative", "scale": {"domain": [0, 6], "nice": false},
          "axis": {"orient": "left", "values": [0,1,2,3,4,5,6], "tickSize": 7, "labelPadding": 7, "title": "RMSD (Å)", "titlePadding": 20}},
    "y2": {"field": "f"}}},
  {"mark": {"type": "area", "color": "#ff1010"},
   "encoding": {
    "x": {"field": "t", "type": "quantitative", "axis": {"orient": "bottom", "values": [5,15,25,35,45,55,65,75,85,95], "tickSize": 4, "labels": false, "title": null}},
    "y": {"field": "c", "type": "quantitative", "axis": {"orient": "left", "values": [0.5,1.5,2.5,3.5,4.5,5.5], "tickSize": 4, "labels": false, "title": null}},
    "y2": {"field": "d"}}},
  {"mark": {"type": "area", "color": "#000000"},
   "encoding": {
    "x": {"field": "t", "type": "quantitative", "axis": {"orient": "top", "values": [0,5,10,15,20,25,30,35,40,45,50,55,60,65,70,75,80,85,90,95,100], "tickSize": 6, "offset": -6, "labels": false, "title": null}},
    "y": {"field": "a", "type": "quantitative", "axis": {"orient": "right", "values": [0.5,1,1.5,2,2.5,3,3.5,4,4.5,5,5.5], "tickSize": 6, "offset": -6, "labels": false, "title": null}},
    "y2": {"field": "b"}}},
  {"data": {"values": [
     {"t": 42.7, "y": 5.08, "label": "HIV-1 IN and LEDGF/p75"},
     {"t": 37.8, "y": 0.9, "label": "HIV-1 IN"},
     {"t": 80.3, "y": 0.9, "label": "LEDGF/p75"}]},
   "mark": {"type": "text", "font": "Liberation Serif", "fontWeight": "bold", "fontSize": 38, "align": "center", "baseline": "alphabetic"},
   "encoding": {
    "x": {"field": "t", "type": "quantitative", "axis": null},
    "y": {"field": "y", "type": "quantitative", "axis": null},
    "text": {"field": "label"},
    "color": {"field": "label", "type": "nominal", "legend": null, "scale": {"domain": ["HIV-1 IN","BI-1001","Active\u00a0 Site Residues","CX14442","HIV-1 IN and LEDGF/p75","LEDGF/p75"], "range": ["#000000","#e8101a","#1515e0","#e8101a","#1e9e55","#e8101a"]}}}},
  {"data": {"values": [{"t": -5.6, "y": 5.44, "label": "C"}]},
   "mark": {"type": "text", "font": "Liberation Serif", "fontWeight": "bold", "fontSize": 62, "align": "center", "baseline": "alphabetic", "color": "#000000"},
   "encoding": {
    "x": {"field": "t", "type": "quantitative", "axis": null},
    "y": {"field": "y", "type": "quantitative", "axis": null},
    "text": {"field": "label"}}}
 ],
 "resolve": {"axis": {"x": "independent", "y": "independent"}}
}
]
}
